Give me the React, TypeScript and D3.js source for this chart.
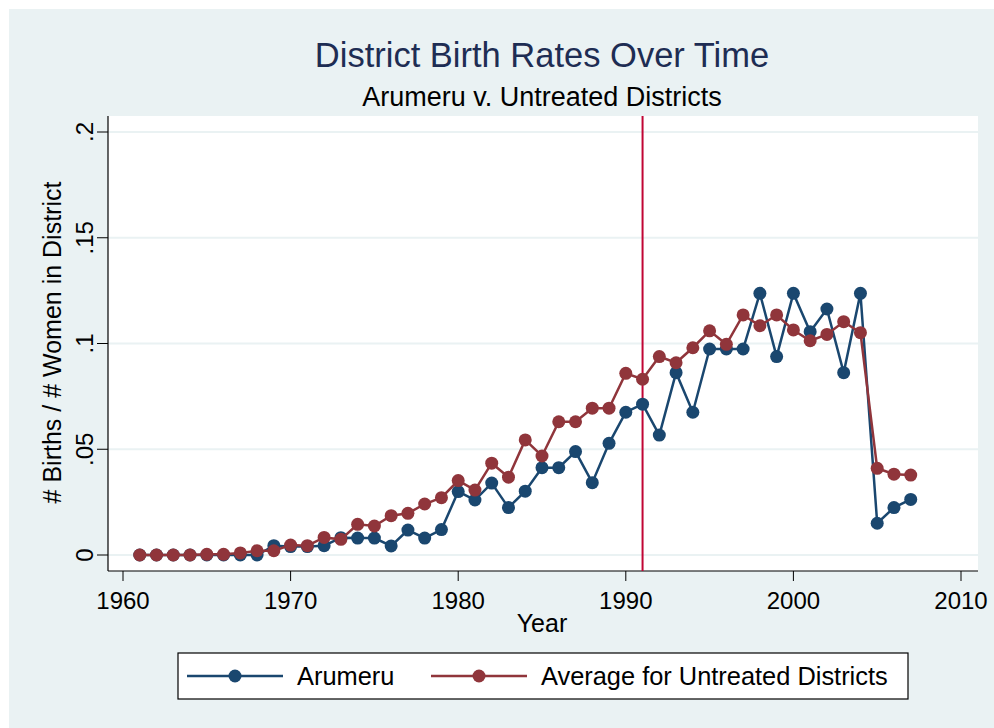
import { useEffect, useRef } from 'react'
import * as d3 from 'd3'

const years = d3.range(1961, 2008)

const arumeru = [
  0, 0, 0, 0, 0, 0, 0, 0, 0.0044, 0.004,
  0.004, 0.0044, 0.0082, 0.008, 0.008, 0.0043, 0.0118, 0.008, 0.012, 0.030,
  0.026, 0.034, 0.0224, 0.0302, 0.0413, 0.0413, 0.0489, 0.0342, 0.0528, 0.0675,
  0.0713, 0.0567, 0.0862, 0.0675, 0.0974, 0.0974, 0.0974, 0.1237, 0.0938, 0.1237,
  0.1056, 0.1163, 0.0862, 0.1237, 0.015, 0.0224, 0.0263
]

const untreated = [
  0, 0, 0, 0, 0.0003, 0.0003, 0.001, 0.002, 0.002, 0.0047,
  0.0044, 0.0083, 0.0074, 0.0145, 0.0137, 0.0186, 0.0197, 0.0241, 0.0271, 0.0352,
  0.0307, 0.0434, 0.0368, 0.0544, 0.0468, 0.063, 0.063, 0.0694, 0.0694, 0.0859,
  0.0831, 0.0938, 0.0909, 0.098, 0.106, 0.0996, 0.1135, 0.1084, 0.1135, 0.1064,
  0.1013, 0.1043, 0.1103, 0.1051, 0.041, 0.0382, 0.0378
]

const xTicks = [1960, 1970, 1980, 1990, 2000, 2010]
const yTicks = [0, 0.05, 0.1, 0.15, 0.2]
const yTickLabels = ['0', '.05', '.1', '.15', '.2']
const treatYear = 1991

const seriesNames = ['Arumeru', 'Average for Untreated Districts']
const seriesColors = ['#1a476f', '#90353b']

const W = 994
const H = 728
const plot = { left: 108, right: 978, top: 116, bottom: 571 }
const font = '"Liberation Sans", Arial, sans-serif'

export default function App() {
  const svgRef = useRef<SVGSVGElement>(null)

  useEffect(() => {
    if (!svgRef.current) return
    const svg = d3.select(svgRef.current)
    svg.selectAll('*').remove()

    const x = d3.scaleLinear().domain([1960, 2010]).range([123, 961])
    const y = d3.scaleLinear().domain([0, 0.2]).range([555, 132])

    svg.append('rect').attr('width', W).attr('height', H).attr('fill', '#ffffff')
    svg.append('rect').attr('x', 9).attr('y', 9).attr('width', W - 9).attr('height', H - 9).attr('fill', '#eaf2f3')

    // plot region
    svg.append('rect')
      .attr('x', plot.left).attr('y', plot.top)
      .attr('width', plot.right - plot.left).attr('height', plot.bottom - plot.top)
      .attr('fill', '#ffffff')

    // gridlines
    svg.append('g').selectAll('line')
      .data(yTicks)
      .enter().append('line')
      .attr('x1', plot.left).attr('x2', plot.right)
      .attr('y1', d => y(d)).attr('y2', d => y(d))
      .attr('stroke', '#eaf2f3').attr('stroke-width', 2)

    // axes
    const axisColor = '#000000'
    svg.append('line')
      .attr('x1', plot.left).attr('x2', plot.left)
      .attr('y1', plot.top).attr('y2', plot.bottom)
      .attr('stroke', axisColor).attr('stroke-width', 1.2)
    svg.append('line')
      .attr('x1', plot.left).attr('x2', plot.right)
      .attr('y1', plot.bottom).attr('y2', plot.bottom)
      .attr('stroke', axisColor).attr('stroke-width', 1.2)

    const yAxis = svg.append('g')
    yAxis.selectAll('line')
      .data(yTicks)
      .enter().append('line')
      .attr('x1', plot.left - 11).attr('x2', plot.left)
      .attr('y1', d => y(d)).attr('y2', d => y(d))
      .attr('stroke', axisColor).attr('stroke-width', 1)
    yAxis.selectAll('text')
      .data(yTicks)
      .enter().append('text')
      .attr('transform', d => `translate(93,${y(d)}) rotate(-90)`)
      .attr('text-anchor', 'middle')
      .attr('font-family', font).attr('font-size', 24)
      .text((d, i) => yTickLabels[i])

    const xAxis = svg.append('g')
    xAxis.selectAll('line')
      .data(xTicks)
      .enter().append('line')
      .attr('x1', d => x(d)).attr('x2', d => x(d))
      .attr('y1', plot.bottom).attr('y2', plot.bottom + 10)
      .attr('stroke', axisColor).attr('stroke-width', 1)
    xAxis.selectAll('text')
      .data(xTicks)
      .enter().append('text')
      .attr('x', d => x(d)).attr('y', 609)
      .attr('text-anchor', 'middle')
      .attr('font-family', font).attr('font-size', 24)
      .text(d => d)

    // axis titles
    svg.append('text')
      .attr('x', 542).attr('y', 632)
      .attr('text-anchor', 'middle')
      .attr('font-family', font).attr('font-size', 25)
      .text('Year')
    svg.append('text')
      .attr('transform', `translate(61,${(plot.top + plot.bottom) / 2 - 1}) rotate(-90)`)
      .attr('text-anchor', 'middle')
      .attr('font-family', font).attr('font-size', 25)
      .text('# Births / # Women in District')

    // titles
    svg.append('text')
      .attr('x', 542).attr('y', 67)
      .attr('text-anchor', 'middle')
      .attr('font-family', font).attr('font-size', 34.5)
      .attr('fill', '#1e2d53')
      .text('District Birth Rates Over Time')
    svg.append('text')
      .attr('x', 542).attr('y', 106)
      .attr('text-anchor', 'middle')
      .attr('font-family', font).attr('font-size', 27)
      .text('Arumeru v. Untreated Districts')

    // treatment line
    svg.append('line')
      .attr('x1', x(treatYear)).attr('x2', x(treatYear))
      .attr('y1', plot.top).attr('y2', plot.bottom)
      .attr('stroke', '#c10534').attr('stroke-width', 2)

    // series
    const allSeries = [arumeru, untreated]
    allSeries.forEach((vals, s) => {
      const pts = years.map((yr, i) => ({ x: yr, y: vals[i] }))
      const line = d3.line<{ x: number; y: number }>()
        .x(d => x(d.x))
        .y(d => y(d.y))
      svg.append('path')
        .datum(pts)
        .attr('fill', 'none')
        .attr('stroke', seriesColors[s])
        .attr('stroke-width', 2.5)
        .attr('d', line)
      svg.append('g').selectAll('circle')
        .data(pts)
        .enter().append('circle')
        .attr('cx', d => x(d.x))
        .attr('cy', d => y(d.y))
        .attr('r', 6.5)
        .attr('fill', seriesColors[s])
    })

    // legend
    const legend = svg.append('g')
    legend.append('rect')
      .attr('x', 178).attr('y', 653)
      .attr('width', 730).attr('height', 46)
      .attr('fill', '#ffffff').attr('stroke', '#000000').attr('stroke-width', 1.2)
    const legendX = [187, 431]
    seriesNames.forEach((name, i) => {
      const lx = legendX[i]
      legend.append('line')
        .attr('x1', lx).attr('x2', lx + 96)
        .attr('y1', 676).attr('y2', 676)
        .attr('stroke', seriesColors[i]).attr('stroke-width', 2.5)
      legend.append('circle')
        .attr('cx', lx + 48).attr('cy', 676).attr('r', 6.5)
        .attr('fill', seriesColors[i])
      legend.append('text')
        .attr('x', lx + 110).attr('y', 685)
        .attr('font-family', font).attr('font-size', 25.4)
        .text(name)
    })
  }, [])

  return (
    <svg
      ref={svgRef}
      width={W}
      height={H}
      style={{ position: 'absolute', left: 0, top: 0, display: 'block' }}
    />
  )
}
